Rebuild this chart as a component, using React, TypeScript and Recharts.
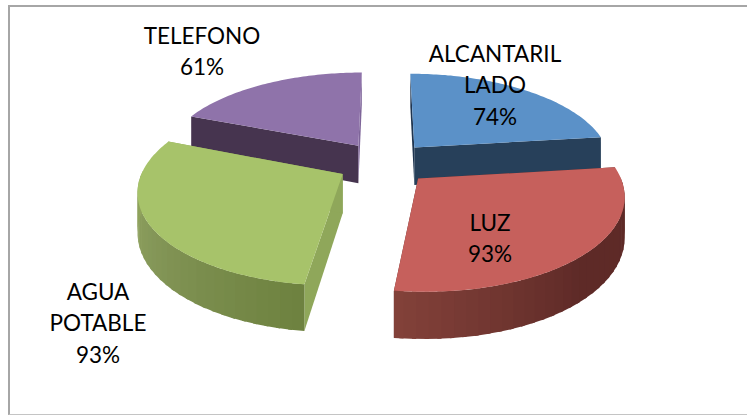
import React from "react";
import { Pie, PieChart } from "recharts";

// order is back to front so the nearer slices paint over the others
const categories = ["TELEFONO", "ALCANTARILLADO", "LUZ", "AGUA POTABLE"];
const values = [61, 74, 93, 93];
const labelLines = [["TELEFONO"], ["ALCANTARIL", "LADO"], ["LUZ"], ["AGUA", "POTABLE"]];

const topColors = ["#8f73aa", "#5b91c8", "#c6605c", "#a7c36a"];
const startFaceColors = ["#46344f", "#1f3550", "#5e2a27", "#8fa75a"];
const endFaceColors = ["#7e6599", "#27405a", "#5e2a27", "#8fa75a"];
// wall colour going clockwise along the outer edge
const wallRamps = [
  ["#46344f", "#46344f", "#46344f"],
  ["#27405a", "#27405a", "#27405a"],
  ["#5e2a27", "#5e2a27", "#84423a"],
  ["#6e8240", "#86985a", "#9aae5e"],
];
const labelAnchors = [
  { x: 202, y: 43.5 },
  { x: 495, y: 61.5 },
  { x: 490, y: 230.5 },
  { x: 98, y: 299.5 },
];

const tableData = categories.map((name, i) => ({ name, value: values[i] }));

const EXPLODE = 0.238;
const PERSPECTIVE = 0.158;
const TILT = 0.455;
const WALL = 38.5;
const RAD = Math.PI / 180;

function hexMix(a: string, b: string, t: number) {
  const ca = [1, 3, 5].map((i) => parseInt(a.slice(i, i + 2), 16));
  const cb = [1, 3, 5].map((i) => parseInt(b.slice(i, i + 2), 16));
  return `rgb(${ca.map((v, i) => Math.round(v + (cb[i] - v) * t)).join(",")})`;
}

function rampColor(ramp: string[], t: number) {
  return t < 0.5 ? hexMix(ramp[0], ramp[1], t * 2) : hexMix(ramp[1], ramp[2], (t - 0.5) * 2);
}

// 3D pie slice: Recharts gives the angles and radius, we tilt them with some perspective
function Slice3D(props: any) {
  const { cx, cy, outerRadius, startAngle, endAngle } = props;
  const idx = categories.indexOf(props.name ?? props.payload?.name);
  const hi = Math.max(startAngle, endAngle);
  const lo = Math.min(startAngle, endAngle);
  const mid = ((hi + lo) / 2) * RAD;

  const project = (r: number, deg: number, drop: number) => {
    const X = EXPLODE * Math.cos(mid) + r * Math.cos(deg * RAD);
    const Y = EXPLODE * Math.sin(mid) + r * Math.sin(deg * RAD);
    const f = 1 / (1 + PERSPECTIVE * Y);
    return [cx + outerRadius * X * f, cy - outerRadius * TILT * Y * f + drop * f];
  };
  const pt = (p: number[]) => `${p[0].toFixed(1)},${p[1].toFixed(1)}`;

  // only the part of the rim that faces the viewer, each strip overlaps the next to hide seams
  const strips = [];
  for (let a = hi; a > lo; a -= 3) {
    if (Math.sin(a * RAD) > 0.02) continue;
    const next = Math.max(a - 4, lo);
    const points = [project(1, a, 0), project(1, next, 0), project(1, next, WALL), project(1, a, WALL)];
    strips.push(
      <polygon key={a} points={points.map(pt).join(" ")} fill={rampColor(wallRamps[idx], (hi - a) / (hi - lo))} />
    );
  }

  const face = (deg: number, color: string) => (
    <polygon
      points={[project(0, deg, 0), project(1, deg, 0), project(1, deg, WALL), project(0, deg, WALL)].map(pt).join(" ")}
      fill={color}
    />
  );

  const top = [project(0, hi, 0)];
  for (let a = hi; a > lo; a -= 1) top.push(project(1, a, 0));
  top.push(project(1, lo, 0));

  return (
    <g>
      {face(hi, startFaceColors[idx])}
      {face(lo, endFaceColors[idx])}
      {strips}
      <polygon points={top.map(pt).join(" ")} fill={topColors[idx]} />
    </g>
  );
}

function renderLabel(props: any) {
  const idx = categories.indexOf(props.name ?? props.payload?.name);
  const { x, y } = labelAnchors[idx];
  const lines = [...labelLines[idx], `${values[idx]}%`];
  return (
    <text x={x} y={y} textAnchor="middle" fontSize={22.5} fill="#000" fontFamily="Lato, sans-serif">
      {lines.map((line, i) => (
        <tspan key={line} x={x} dy={i === 0 ? 0 : 31.5}>
          {line}
        </tspan>
      ))}
    </text>
  );
}

export default function App() {
  return (
    <div style={{ position: "absolute", left: 0, top: 0, width: 747, height: 415, overflow: "hidden", background: "#fff" }}>
      <div
        style={{
          position: "absolute",
          left: 8,
          top: 5,
          width: 780,
          height: 407,
          borderLeft: "2px solid #a6a6a6",
          borderTop: "2px solid #a6a6a6",
          borderBottom: "1px solid #c4c4c4",
        }}
      />
      <PieChart width={747} height={415} margin={{ top: 0, right: 0, bottom: 0, left: 0 }} style={{ position: "absolute", left: 0, top: 0 }}>
        <Pie
          data={tableData}
          dataKey="value"
          nameKey="name"
          cx={384}
          cy={163}
          outerRadius={197.5}
          startAngle={158.4}
          endAngle={-201.6}
          stroke="none"
          shape={Slice3D}
          label={renderLabel}
          labelLine={false}
          isAnimationActive={false}
        />
      </PieChart>
    </div>
  );
}
